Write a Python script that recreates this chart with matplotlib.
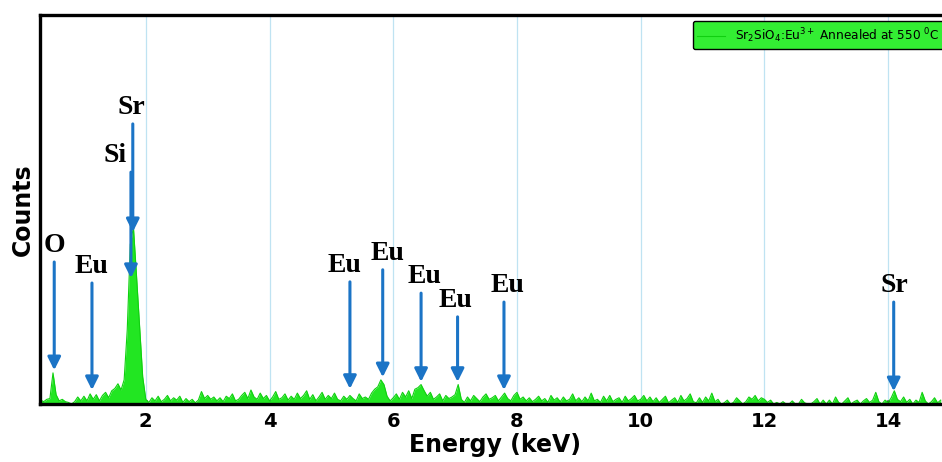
import numpy as np
import matplotlib
matplotlib.use("Agg")
import matplotlib.pyplot as plt

# EDS spectrum, channels every 0.05 keV from 0.30 to 14.85 keV
energy = np.round(np.arange(0.30, 14.851, 0.05), 2)

counts = [
    # 0.30 - 0.95
    10, 6, 12, 14, 80, 24, 8, 12, 6, 4, 0, 6, 18, 8,
    # 1.00 - 1.95
    20, 8, 26, 12, 24, 8, 22, 30, 16, 34, 40, 52, 36, 62, 190, 410, 455, 330, 200, 70,
    # 2.00 - 2.95
    12, 4, 16, 8, 20, 6, 12, 22, 8, 16, 10, 20, 4, 14, 6, 12, 3, 10, 32, 14,
    # 3.00 - 3.95
    22, 12, 18, 8, 16, 6, 20, 14, 26, 8, 12, 22, 30, 14, 36, 18, 12, 28, 14, 22,
    # 4.00 - 4.95
    8, 18, 32, 12, 16, 26, 10, 20, 12, 28, 14, 22, 34, 12, 24, 8, 18, 30, 12, 22,
    # 5.00 - 5.95
    14, 28, 12, 8, 20, 12, 22, 14, 8, 26, 14, 18, 12, 28, 38, 44, 62, 50, 20, 8,
    # 6.00 - 6.95
    16, 26, 12, 30, 18, 34, 14, 38, 42, 50, 34, 20, 30, 12, 18, 26, 8, 22, 14, 18,
    # 7.00 - 7.95
    24, 50, 12, 4, 18, 8, 22, 14, 6, 18, 26, 12, 16, 22, 8, 18, 28, 14, 8, 22,
    # 8.00 - 8.95
    30, 12, 18, 8, 16, 6, 12, 20, 8, 14, 4, 22, 10, 16, 6, 18, 8, 12, 26, 8,
    # 9.00 - 9.95
    16, 6, 18, 8, 28, 8, 12, 4, 20, 8, 22, 6, 12, 16, 4, 20, 8, 14, 22, 8,
    # 10.00 - 10.95
    12, 22, 8, 18, 6, 16, 4, 12, 20, 3, 10, 16, 4, 22, 8, 14, 26, 6, 3, 16,
    # 11.00 - 11.95
    4, 18, 8, 28, 6, 12, 0, 3, 10, 0, 4, 16, 8, 0, 6, 18, 12, 22, 8, 16,
    # 12.00 - 12.95
    12, 4, 10, 0, 4, 0, 6, 0, 0, 8, 0, 0, 12, 3, 0, 0, 6, 14, 0, 10,
    # 13.00 - 13.95
    0, 10, 0, 18, 4, 0, 8, 16, 0, 6, 10, 0, 8, 14, 4, 10, 30, 6, 0, 10,
    # 14.00 - 14.85
    4, 16, 34, 12, 6, 18, 4, 12, 0, 10, 4, 30, 8, 0, 6, 16, 3, 10,
]

# peak markers: element, line energy (keV), arrow tail, arrow tip (counts)
peak_labels = ["O", "Eu", "Si", "Sr", "Eu", "Eu", "Eu", "Eu", "Eu", "Sr"]
peak_energy = [0.52, 1.13, 1.76, 1.79, 5.30, 5.83, 6.45, 7.04, 7.79, 14.09]
arrow_tail = [365, 311, 596, 720, 314, 345, 285, 224, 262, 262]
arrow_tip = [87, 36, 324, 442, 39, 69, 57, 57, 36, 33]
label_dx = [0, 0, -0.26, -0.03, -0.08, 0.07, 0.06, -0.04, 0.06, 0.01]

green = "#22e622"
arrow_blue = "#1b74c6"

fig = plt.figure(figsize=(9.42, 4.62), dpi=100)
ax = fig.add_axes([40 / 942, 58 / 462, 910 / 942, 389 / 462])

ax.fill_between(energy, counts, 0, color=green, lw=0)
ax.plot(energy, counts, color="#10d010", lw=0.8,
        label=r"Sr$_2$SiO$_4$:Eu$^{3+}$ Annealed at 550 $^0$C")

for name, e, tail, tip, dx in zip(peak_labels, peak_energy, arrow_tail,
                                  arrow_tip, label_dx):
    ax.annotate("", xy=(e, tip), xytext=(e, tail),
                arrowprops=dict(arrowstyle="-|>,head_length=0.7,head_width=0.35",
                                mutation_scale=11, lw=2.2, color=arrow_blue,
                                shrinkA=0, shrinkB=0))
    ax.annotate(name, xy=(e + dx, tail), xytext=(0, 3), textcoords="offset points",
                ha="center", va="bottom", fontsize=20, fontweight="bold",
                family="Liberation Serif")

ax.set_xlim(0.29, 15.0)
ax.set_ylim(0, 1000)
ax.set_xticks([2, 4, 6, 8, 10, 12, 14])
ax.set_yticks([])
ax.grid(axis="x", color="#bfe3f2", lw=0.9)
ax.set_axisbelow(True)

ax.tick_params(axis="x", direction="in", length=3, width=2, labelsize=14, pad=6)
for lbl in ax.get_xticklabels():
    lbl.set_fontweight("bold")
for sp in ax.spines.values():
    sp.set_linewidth(2.4)

ax.set_xlabel("Energy (keV)", fontsize=17, fontweight="bold", labelpad=1)
ax.set_ylabel("Counts", fontsize=17, fontweight="bold", labelpad=4)

leg = ax.legend(loc="upper right", fontsize=8.7, frameon=True, fancybox=True,
                handlelength=2.3, borderaxespad=0.5)
leg.get_frame().set_facecolor("#33ee33")
leg.get_frame().set_edgecolor("black")
leg.get_frame().set_alpha(1)

fig.savefig("out.png", dpi=100)
